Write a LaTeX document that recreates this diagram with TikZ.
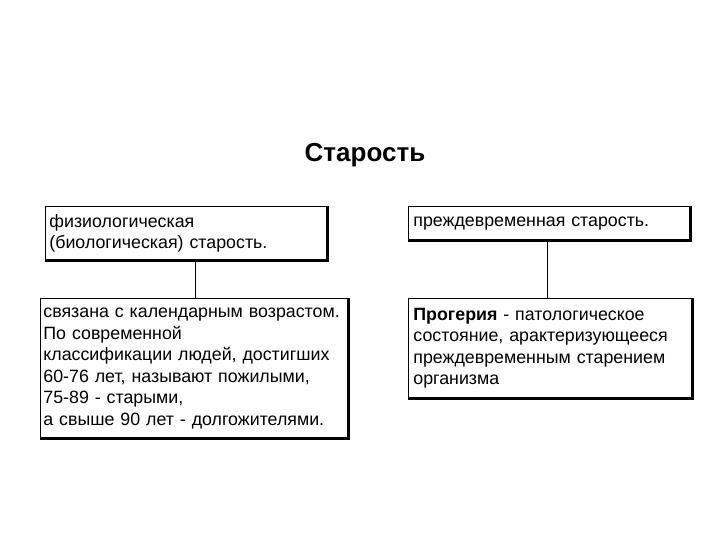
\documentclass[tikz,border=0pt]{standalone}
\usepackage{fontspec}
\setmainfont{Liberation Sans}
\begin{document}
\begin{tikzpicture}[x=1pt,y=-1pt,
  box/.style={draw,line width=0.8pt,anchor=north west,inner sep=0pt,align=left,font=\fontsize{17.8}{21.5}\selectfont},
  heavy/.style={line width=3pt},
  conn/.style={line width=0.6pt}]
\useasboundingbox (0,0) rectangle (720,540);
\node[font=\bfseries\fontsize{26}{30}\selectfont] (t) at (365,155) {Старость};
\node[box,minimum width=282pt,minimum height=54pt,text width=274pt] (b1) at (45,206) {физиологическая\\(биологическая) старость.};
\node[box,minimum width=308pt,minimum height=140pt,text width=302pt] (b2) at (40,298) {связана с календарным возрастом.\\По современной\\классификации людей, достигших\\60-76 лет, называют пожилыми,\\75-89 - старыми,\\а свыше 90 лет - долгожителями.};
\node[box,minimum width=282pt,minimum height=34pt,text width=272pt] (b3) at (408,206) {преждевременная старость.};
\node[box,minimum width=284pt,minimum height=100pt,text width=274pt] (b4) at (408,298) {\textbf{Прогерия} - патологическое\\состояние, арактеризующееся\\преждевременным старением\\организма};
\foreach \b in {b1,b2,b3,b4}
  \draw[heavy] (\b.north east) -- (\b.south east) -- (\b.south west);
\draw[conn] (b1.south -| 195,0) -- (b2.north -| 195,0);
\draw[conn] (b3.south -| 547,0) -- (b4.north -| 547,0);
\end{tikzpicture}
\end{document}
